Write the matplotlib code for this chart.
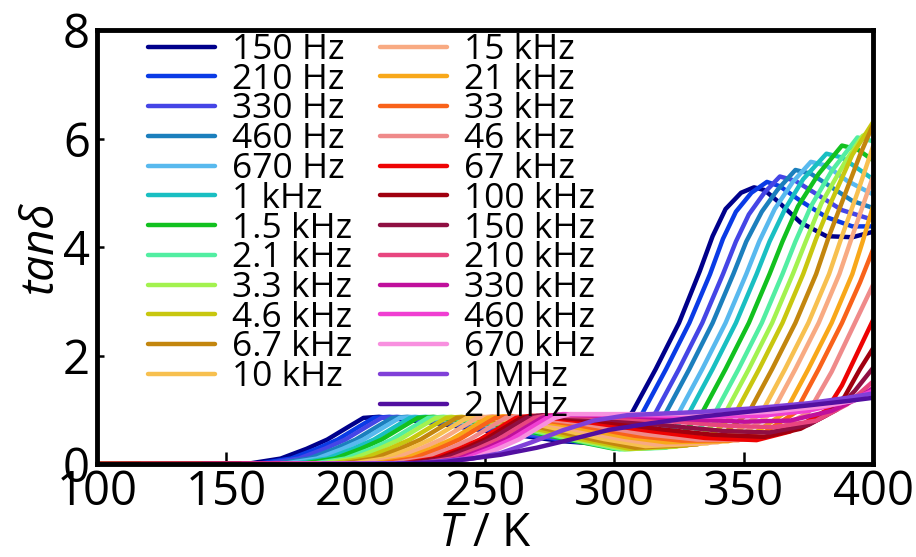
import matplotlib
matplotlib.use("Agg")
import matplotlib.pyplot as plt

FONT = "Open Sans"
plt.rcParams['font.family'] = [FONT, 'DejaVu Sans']
plt.rcParams['mathtext.fontset'] = 'custom'
plt.rcParams['mathtext.it'] = FONT + ':italic'
plt.rcParams['mathtext.rm'] = FONT

freq_labels = ["150 Hz", "210 Hz", "330 Hz", "460 Hz", "670 Hz", "1 kHz", "1.5 kHz",
               "2.1 kHz", "3.3 kHz", "4.6 kHz", "6.7 kHz", "10 kHz",
               "15 kHz", "21 kHz", "33 kHz", "46 kHz", "67 kHz", "100 kHz", "150 kHz",
               "210 kHz", "330 kHz", "460 kHz", "670 kHz", "1 MHz", "2 MHz"]

colors = ["#00008b", "#0a3be6", "#4545e6", "#1b7fbd", "#58b9ee", "#19bfc2", "#12c11f",
          "#52eea2", "#a3f24f", "#c8c70f", "#c3860e", "#f7c04f",
          "#f8aa82", "#f8a81a", "#f9621a", "#ef8a8a", "#ee0303", "#a0000f", "#8f0f42",
          "#e8467f", "#c0109c", "#f03fd2", "#f890df", "#8040d8", "#520fa0"]

# temperature (K) of read points for each curve
curve_T = [
    [100,159,171,181,189,197,203,209,230,255,280,292,300,307,316,325,333,338,343,349,354,358,363,372,382,392,400],
    [100,163,175,185,193,201,207,213,234,259,284,296,304,311,320,329,337,342,347,353,359,364,372,382,392,400],
    [100,166,178,188,196,204,210,216,238,263,288,300,308,316,325,334,342,347,352,358,364,370,378,388,400],
    [100,170,182,192,200,208,214,220,242,267,292,304,312,320,329,338,346,351,357,363,370,376,384,392,400],
    [100,173,185,195,203,211,217,223,245,270,296,308,316,325,334,343,351,356,362,369,376,382,390,400],
    [100,177,189,199,207,215,221,227,249,274,300,312,320,329,338,347,355,360,366,373,382,388,394,400],
    [100,180,192,202,210,218,224,230,252,277,300,316,325,334,343,352,360,365,371,379,388,394,400],
    [100,184,196,206,214,222,228,234,256,281,302,320,330,339,348,357,365,370,376,384,394,400],
    [100,187,199,209,217,225,231,237,259,284,304,324,334,343,352,361,369,374,380,389,396,400],
    [100,191,203,213,221,229,235,241,263,288,306,328,338,347,356,365,373,378,384,392,400],
    [100,195,207,217,225,233,239,245,267,292,308,332,342,352,361,370,378,383,389,395,400],
    [100,199,211,221,229,237,243,249,271,296,312,336,346,357,366,375,383,388,394,400],
    [100,203,215,225,233,241,247,253,275,300,316,340,350,361,370,379,387,392,400],
    [100,207,219,229,237,245,251,257,279,304,320,344,354,366,375,384,392,396,400],
    [100,210,222,232,240,248,254,260,283,308,326,348,358,370,379,388,395,400],
    [100,214,226,236,244,252,258,264,287,312,332,352,362,375,384,392,400],
    [100,218,230,240,248,256,262,268,290,315,335,355,368,382,388,394,400],
    [100,220,232,242,250,258,264,270,294,318,338,358,372,382,389,395,400],
    [100,222,234,244,252,260,266,272,298,322,342,360,375,386,393,400],
    [117,225,237,247,255,263,269,275,302,326,345,362,378,390,400],
    [141,228,240,250,258,266,272,278,306,330,350,368,384,394,400],
    [156,230,242,252,260,268,274,280,310,334,355,375,390,400],
    [171,233,245,255,263,271,277,283,314,338,360,380,392,400],
    [187,225,245,256,268,280,292,305,333,355,375,390,400],
    [216,235,256,270,283,298,314,333,355,375,390,400],
]

# tan(delta) read at those temperatures
curve_tand = [
    [0,0.01,0.1,0.28,0.45,0.68,0.85,0.87,0.76,0.58,0.42,0.38,0.55,0.96,1.75,2.6,3.55,4.2,4.7,5.0,5.1,5.05,4.85,4.45,4.2,4.18,4.28],
    [0,0.01,0.1,0.28,0.45,0.68,0.85,0.87,0.76,0.58,0.42,0.37,0.52,0.95,1.75,2.6,3.5,4.15,4.65,5.0,5.2,5.12,4.85,4.55,4.38,4.38],
    [0,0.01,0.1,0.28,0.45,0.68,0.85,0.87,0.76,0.58,0.4,0.36,0.5,0.95,1.75,2.6,3.5,4.1,4.6,5.0,5.3,5.22,4.98,4.68,4.5],
    [0,0.01,0.1,0.28,0.45,0.68,0.85,0.87,0.76,0.58,0.4,0.36,0.5,0.95,1.75,2.6,3.5,4.1,4.65,5.05,5.42,5.35,5.1,4.85,4.72],
    [0,0.01,0.1,0.28,0.45,0.68,0.85,0.87,0.76,0.57,0.38,0.35,0.5,0.95,1.75,2.6,3.5,4.1,4.7,5.2,5.57,5.5,5.22,4.97],
    [0,0.01,0.1,0.28,0.45,0.68,0.85,0.87,0.76,0.56,0.36,0.34,0.5,0.95,1.75,2.6,3.5,4.1,4.7,5.25,5.72,5.65,5.45,5.25],
    [0,0.01,0.1,0.28,0.45,0.68,0.85,0.87,0.75,0.5,0.28,0.3,0.5,0.95,1.75,2.6,3.5,4.1,4.75,5.35,5.87,5.8,5.6],
    [0,0.01,0.1,0.28,0.45,0.68,0.85,0.87,0.74,0.48,0.27,0.3,0.52,0.95,1.75,2.6,3.5,4.1,4.75,5.4,6.02,5.95],
    [0,0.01,0.1,0.28,0.45,0.68,0.85,0.87,0.73,0.46,0.27,0.32,0.54,0.95,1.75,2.6,3.5,4.1,4.8,5.55,6.05,6.14],
    [0,0.01,0.1,0.28,0.45,0.68,0.85,0.87,0.72,0.45,0.28,0.34,0.55,0.95,1.75,2.6,3.5,4.15,4.85,5.7,6.3],
    [0,0.01,0.1,0.28,0.45,0.68,0.85,0.87,0.72,0.45,0.3,0.36,0.55,0.95,1.75,2.6,3.5,4.2,4.95,5.7,6.25],
    [0,0.01,0.1,0.28,0.45,0.68,0.85,0.87,0.72,0.46,0.33,0.38,0.55,0.95,1.75,2.6,3.5,4.2,5.0,5.85],
    [0,0.01,0.1,0.28,0.45,0.68,0.85,0.88,0.73,0.48,0.36,0.4,0.56,0.95,1.75,2.6,3.5,4.2,5.3],
    [0,0.01,0.1,0.28,0.45,0.68,0.85,0.88,0.73,0.5,0.4,0.42,0.56,0.95,1.75,2.6,3.5,4.1,4.75],
    [0,0.01,0.1,0.28,0.45,0.68,0.85,0.88,0.74,0.52,0.43,0.44,0.58,0.95,1.75,2.6,3.35,3.95],
    [0,0.01,0.1,0.28,0.45,0.68,0.85,0.88,0.75,0.55,0.45,0.45,0.6,0.95,1.7,2.5,3.3],
    [0,0.01,0.1,0.28,0.45,0.68,0.85,0.89,0.77,0.6,0.48,0.44,0.6,0.99,1.45,2.05,2.65],
    [0,0.01,0.1,0.28,0.45,0.68,0.85,0.89,0.79,0.64,0.54,0.5,0.65,0.9,1.24,1.75,2.13],
    [0,0.01,0.1,0.28,0.45,0.68,0.85,0.9,0.82,0.7,0.61,0.58,0.72,1.0,1.35,1.77],
    [0,0.01,0.1,0.28,0.45,0.68,0.85,0.9,0.85,0.77,0.7,0.68,0.8,1.1,1.52],
    [0,0.01,0.1,0.28,0.45,0.68,0.85,0.91,0.88,0.82,0.78,0.8,0.98,1.2,1.4],
    [0,0.01,0.1,0.28,0.45,0.68,0.85,0.92,0.9,0.87,0.88,0.98,1.15,1.35],
    [0,0.01,0.1,0.28,0.45,0.68,0.85,0.92,0.92,0.92,0.96,1.06,1.16,1.3],
    [0,0.02,0.1,0.2,0.4,0.62,0.8,0.9,0.96,1.03,1.12,1.22,1.3],
    [0,0.04,0.17,0.3,0.45,0.63,0.75,0.87,0.98,1.08,1.16,1.22],
]

x_ticks = [100, 150, 200, 250, 300, 350, 400]
y_ticks = [0, 2, 4, 6, 8]

W, H = 916, 557
fig = plt.figure(figsize=(W / 100, H / 100), dpi=100)
ax = fig.add_axes([97 / W, 1 - 464 / H, (873 - 97) / W, (464 - 30) / H])

handles = []
for T, y, c, lab in zip(curve_T, curve_tand, colors, freq_labels):
    ln, = ax.plot(T, y, color=c, lw=3.2, solid_joinstyle='round', solid_capstyle='round', label=lab)
    handles.append(ln)

ax.set_xlim(100, 400)
ax.set_ylim(0, 8)
ax.set_xticks(x_ticks)
ax.set_yticks(y_ticks)
for s in ax.spines.values():
    s.set_linewidth(3.5)
ax.tick_params(axis='x', direction='in', length=9, width=1.8, labelsize=34, pad=3)
ax.tick_params(axis='y', direction='in', length=5, width=1.8, labelsize=34, pad=5)

ax.set_xlabel("$T$ / K", fontsize=33, labelpad=-3)
ax.set_ylabel("tanδ", fontsize=33, style='italic', labelpad=0)

leg_kw = dict(loc='upper left', bbox_transform=fig.transFigure, frameon=False,
              borderpad=0, borderaxespad=0, handlelength=1.9, handletextpad=0.47,
              labelspacing=-0.12, fontsize=25.5)
leg1 = ax.legend(handles[:12], freq_labels[:12], bbox_to_anchor=(148 / W, 1 - 33 / H), **leg_kw)
ax.add_artist(leg1)
leg2 = ax.legend(handles[12:], freq_labels[12:], bbox_to_anchor=(380 / W, 1 - 33 / H), **leg_kw)

fig.savefig("out.png", dpi=100)
